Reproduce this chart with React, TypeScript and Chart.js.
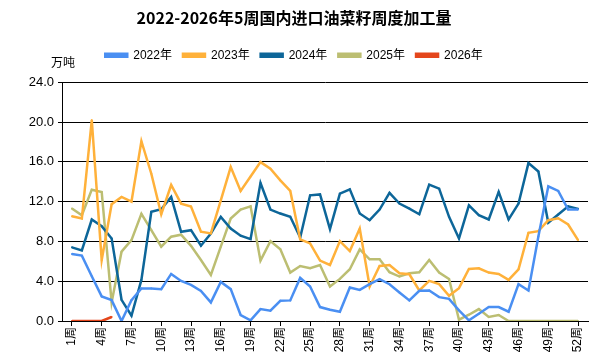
import React, { useEffect, useRef } from "react";
import { Chart, registerables } from "chart.js";

Chart.register(...registerables);

const TITLE = "2022-2026年5周国内进口油菜籽周度加工量";
const UNIT = "万吨";
const WEEKS = Array.from({ length: 52 }, (_, i) => i + 1);
const TICK_WEEKS = [1, 4, 7, 10, 13, 16, 19, 22, 25, 28, 31, 34, 37, 40, 43, 46, 49, 52];
const Y_TICKS = [0, 4, 8, 12, 16, 20, 24];

const SERIES_NAMES = ["2022年", "2023年", "2024年", "2025年", "2026年"];
const SERIES_COLORS = ["#4a8ff2", "#ffb13a", "#0d6699", "#bcbe72", "#e4461c"];

const S2022 = [6.73, 6.57, 4.5, 2.47, 2.1, 0, 2.1, 3.27, 3.27, 3.2, 4.73, 4.03, 3.63,
  3.03, 1.87, 3.93, 3.2, 0.6, 0.07, 1.2, 1.03, 2.03, 2.07, 4.33, 3.47, 1.4,
  1.13, 0.93, 3.37, 3.13, 3.7, 4.2, 3.7, 2.87, 2.07, 3.03, 3.07, 2.4, 2.23,
  1.07, 0.07, 0.73, 1.4, 1.4, 0.93, 3.7, 3.07, 8.5, 13.53, 13.07, 11.2, 11.2];
const S2023 = [10.53, 10.3, 20.2, 6.13, 11.73, 12.47, 12.0, 18.07, 14.8, 10.73, 13.67, 11.8, 11.5,
  8.97, 8.8, 12.13, 15.47, 13.07, 14.53, 15.97, 15.3, 14.13, 13.07, 8.2, 7.8, 6.07,
  5.63, 8.03, 7.03, 9.3, 3.47, 5.53, 5.63, 4.8, 4.7, 3.07, 4.03, 3.7, 2.53,
  3.3, 5.23, 5.3, 4.87, 4.73, 4.13, 5.2, 8.87, 9.03, 10.13, 10.33, 9.7, 8.13];
const S2024 = [7.4, 7.1, 10.2, 9.53, 8.3, 2.13, 0.53, 4.13, 10.97, 11.23, 12.47, 8.97, 9.13,
  7.57, 8.8, 10.47, 9.3, 8.57, 8.23, 13.87, 11.2, 10.8, 10.47, 8.4, 12.63, 12.72,
  9.23, 12.8, 13.23, 10.8, 10.13, 11.2, 12.87, 11.8, 11.3, 10.73, 13.7, 13.3, 10.47,
  8.3, 11.63, 10.63, 10.2, 12.97, 10.2, 11.8, 15.87, 15.03, 9.87, 10.7, 11.53, 11.27];
const S2025 = [11.3, 10.63, 13.2, 12.97, 1.87, 6.97, 8.13, 10.77, 9.13, 7.47, 8.47, 8.67, 7.55,
  6.13, 4.63, 7.47, 10.3, 11.2, 11.53, 6.07, 8.03, 7.2, 4.87, 5.53, 5.3, 5.63,
  3.47, 4.23, 5.2, 7.2, 6.2, 6.2, 4.9, 4.47, 4.8, 4.9, 6.13, 4.87, 4.23,
  0.13, 0.63, 1.2, 0.4, 0.6, 0, 0, 0, 0, 0, 0, 0, 0];
const S2026 = [0, 0, 0, 0, 0.4];

const SERIES_VALUES = [S2022, S2023, S2024, S2025, S2026];

const FONT = "Arial, 'Liberation Sans', 'Noto Sans CJK SC', sans-serif";

export default function App() {
  const ref = useRef<HTMLCanvasElement | null>(null);

  useEffect(() => {
    if (!ref.current) return;
    const unitPlugin = {
      id: "unitLabel",
      beforeInit(chart: any) {
        const lg = chart.legend;
        if (lg && !lg.__patched) {
          const origFit = lg.fit;
          lg.fit = function () {
            origFit.call(this);
            this.height += 11;
          };
          lg.__patched = true;
        }
      },
      afterDraw(chart: any) {
        const ctx = chart.ctx;
        const y = chart.scales.y;
        ctx.save();
        ctx.font = "12px " + FONT;
        ctx.fillStyle = "#000";
        ctx.textAlign = "center";
        ctx.textBaseline = "middle";
        ctx.fillText(UNIT, y.right + 1, 64);
        ctx.restore();
      },
    };
    const chart = new Chart(ref.current, {
      type: "line",
      data: {
        datasets: SERIES_NAMES.map((name, i) => ({
          label: name,
          data: SERIES_VALUES[i].map((v, j) => ({ x: WEEKS[j], y: v })),
          borderColor: SERIES_COLORS[i],
          backgroundColor: SERIES_COLORS[i],
          borderWidth: 2.5,
          pointRadius: 1,
          pointBorderWidth: 0,
          pointBackgroundColor: SERIES_COLORS[i],
          tension: 0,
          fill: false,
        })),
      },
      options: {
        animation: false,
        responsive: false,
        maintainAspectRatio: false,
        layout: { padding: { left: 0, right: 12, top: 0, bottom: 0 } },
        plugins: {
          title: {
            display: true,
            text: TITLE,
            color: "#000",
            font: { family: "'Noto Sans CJK SC', sans-serif", size: 16, weight: "bold" },
            padding: { top: 8, bottom: 11 },
          },
          legend: {
            display: true,
            position: "top",
            labels: {
              boxWidth: 22,
              boxHeight: 3,
              padding: 11,
              color: "#000",
              font: { family: FONT, size: 12 },
            },
          },
          tooltip: { enabled: false },
        },
        scales: {
          x: {
            type: "linear",
            min: 0,
            max: 53,
            afterBuildTicks: (scale: any) => {
              scale.ticks = TICK_WEEKS.map((v) => ({ value: v }));
            },
            afterFit: (scale: any) => {
              scale.height = 39;
            },
            ticks: {
              autoSkip: false,
              maxRotation: 90,
              minRotation: 90,
              padding: 1,
              color: "#000",
              font: { family: FONT, size: 12 },
              callback: (v: any) => v + "周",
            },
            grid: {
              display: true,
              drawOnChartArea: false,
              drawTicks: true,
              tickLength: 5,
              color: "#000",
            },
            border: { display: true, color: "#000", width: 1 },
          },
          y: {
            min: 0,
            max: 24,
            afterBuildTicks: (scale: any) => {
              scale.ticks = Y_TICKS.map((v) => ({ value: v }));
            },
            afterFit: (scale: any) => {
              scale.width = 62;
            },
            ticks: {
              color: "#000",
              padding: 4,
              font: { family: FONT, size: 13 },
              callback: (v: any) => Number(v).toFixed(1),
            },
            grid: {
              color: "#000",
              lineWidth: 1,
              tickLength: 4,
            },
            border: { display: true, color: "#000", width: 1 },
          },
        },
      },
      plugins: [unitPlugin],
    });
    return () => chart.destroy();
  }, []);

  return (
    <div style={{ position: "fixed", left: 0, top: 0, width: 600, height: 360, background: "#fff" }}>
      <canvas ref={ref} width={600} height={360} style={{ width: 600, height: 360 }} />
    </div>
  );
}
